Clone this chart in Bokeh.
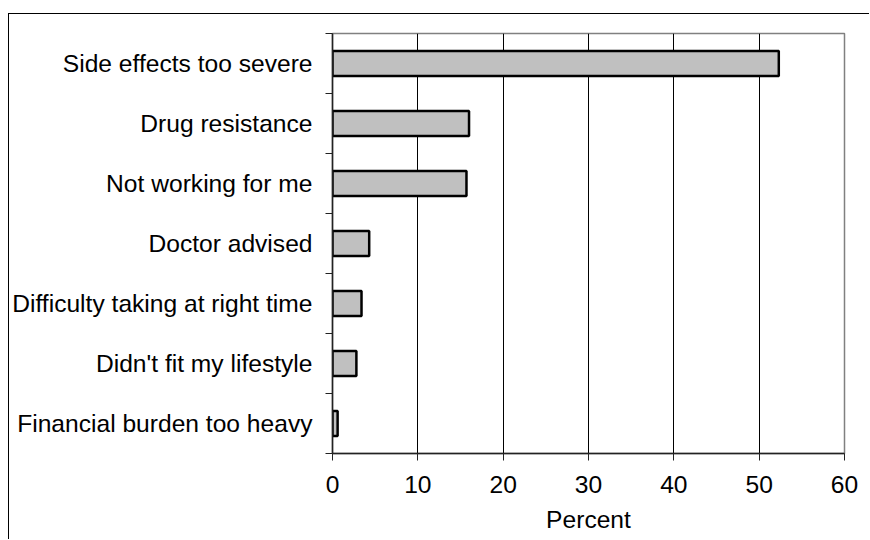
from bokeh.plotting import figure
from bokeh.models import Range1d, FixedTicker, ColumnDataSource
from bokeh.embed import file_html
from bokeh.resources import INLINE

# Data (top to bottom as in the chart)
categories = [
    "Side effects too severe",
    "Drug resistance",
    "Not working for me",
    "Doctor advised",
    "Difficulty taking at right time",
    "Didn't fit my lifestyle",
    "Financial burden too heavy",
]
percent = [52.3, 16.0, 15.7, 4.3, 3.4, 2.8, 0.6]
x_ticks = [0, 10, 20, 30, 40, 50, 60]

n = len(categories)
ypos = [n - 1 - i for i in range(n)]
src = ColumnDataSource(dict(y=ypos, pct=percent, cat=categories))

FONT = "Liberation Sans"
FS = "24.6px"

p = figure(
    width=861, height=526,
    x_range=Range1d(0, 60), y_range=Range1d(-0.5, n - 0.5),
    output_backend="svg", toolbar_location=None,
    min_border_left=323, min_border_right=26,
    min_border_top=19, min_border_bottom=87,
)
p.margin = (13, 0, 0, 8)
p.styles = {"border-left": "1px solid black", "border-top": "1px solid black"}

p.hbar(y="y", right="pct", left=0, height=0.42, source=src,
       fill_color="#C0C0C0", line_color="black", line_width=2.5)

p.outline_line_color = "#808080"
p.outline_line_width = 1.5
p.background_fill_color = "white"
p.border_fill_color = "white"

# x axis
xa = p.xaxis[0]
xa.ticker = FixedTicker(ticks=x_ticks)
xa.minor_tick_line_color = None
xa.major_tick_in = 0
xa.major_tick_out = 7
xa.major_tick_line_color = "#222222"
xa.axis_line_color = "#222222"
xa.axis_line_width = 1.5
xa.major_label_standoff = 15
xa.major_label_text_font = FONT
xa.major_label_text_font_size = FS
xa.major_label_text_color = "black"
xa.axis_label = "Percent"
xa.axis_label_text_font = FONT
xa.axis_label_text_font_size = FS
xa.axis_label_text_font_style = "normal"
xa.axis_label_text_color = "black"
xa.axis_label_standoff = 10

# y axis: labels at bar centres, ticks at category boundaries
ya = p.yaxis[0]
ya.ticker = FixedTicker(ticks=ypos, minor_ticks=[v - 0.5 for v in range(n + 1)])
ya.major_label_overrides = {y: c for y, c in zip(ypos, categories)}
ya.major_tick_line_color = None
ya.major_tick_in = 0
ya.major_tick_out = 7
ya.minor_tick_in = 0
ya.minor_tick_out = 7
ya.minor_tick_line_color = "#222222"
ya.axis_line_color = "#222222"
ya.axis_line_width = 1.5
ya.major_label_standoff = 13
ya.major_label_text_font = FONT
ya.major_label_text_font_size = FS
ya.major_label_text_color = "black"

p.xgrid.grid_line_color = "black"
p.xgrid.grid_line_width = 1
p.ygrid.grid_line_color = None

open("out.html", "w").write(file_html(p, INLINE))
